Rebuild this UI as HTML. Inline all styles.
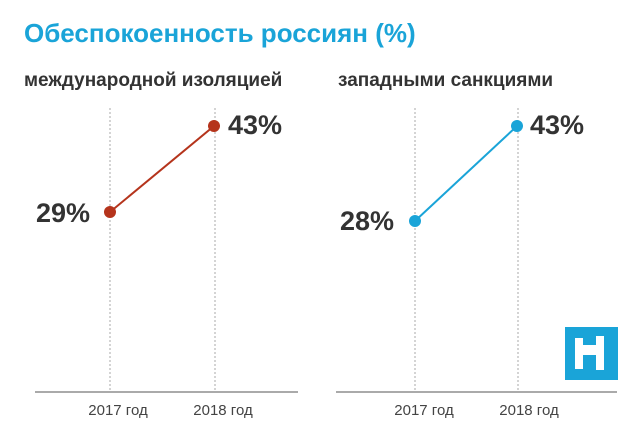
<!DOCTYPE html><html><head><style>body{margin:0;background:#fff;width:640px;height:440px;overflow:hidden}</style></head><body>
<svg width="640" height="440" xmlns="http://www.w3.org/2000/svg" font-family="Liberation Sans, sans-serif">
<text x="24" y="42" font-size="26" font-weight="bold" fill="#1aa4d8">Обеспокоенность россиян (%)</text>
<text x="24" y="86" font-size="19" font-weight="bold" fill="#333">международной изоляцией</text>
<text x="338" y="86" font-size="19" font-weight="bold" fill="#333">западными санкциями</text>
<g stroke="#aaa" stroke-width="1" stroke-dasharray="2,2">
<line x1="110" y1="108" x2="110" y2="392"/><line x1="215" y1="108" x2="215" y2="392"/>
<line x1="415" y1="108" x2="415" y2="392"/><line x1="518" y1="108" x2="518" y2="392"/></g>
<line x1="35" y1="392" x2="298" y2="392" stroke="#777" stroke-width="1.2"/>
<line x1="336" y1="392" x2="617" y2="392" stroke="#777" stroke-width="1.2"/>
<line x1="110" y1="212" x2="214" y2="126" stroke="#b5341c" stroke-width="2"/>
<circle cx="110" cy="212" r="6" fill="#b5341c"/><circle cx="214" cy="126" r="6" fill="#b5341c"/>
<line x1="415" y1="221" x2="517" y2="126" stroke="#1aa4d8" stroke-width="2"/>
<circle cx="415" cy="221" r="6" fill="#1aa4d8"/><circle cx="517" cy="126" r="6" fill="#1aa4d8"/>
<g font-size="27" font-weight="bold" fill="#333">
<text x="228" y="134">43%</text><text x="36" y="222">29%</text>
<text x="530" y="134">43%</text><text x="340" y="230">28%</text></g>
<g font-size="15" fill="#444" text-anchor="middle">
<text x="118" y="415">2017 год</text><text x="223" y="415">2018 год</text>
<text x="424" y="415">2017 год</text><text x="529" y="415">2018 год</text></g>
<rect x="565" y="327" width="53" height="53" fill="#1aa4d8"/>
<rect x="575" y="338" width="8" height="31" fill="#fff"/>
<rect x="583" y="345" width="14" height="10" fill="#fff"/>
<rect x="596" y="336" width="8" height="34" fill="#fff"/>
</svg></body></html>
